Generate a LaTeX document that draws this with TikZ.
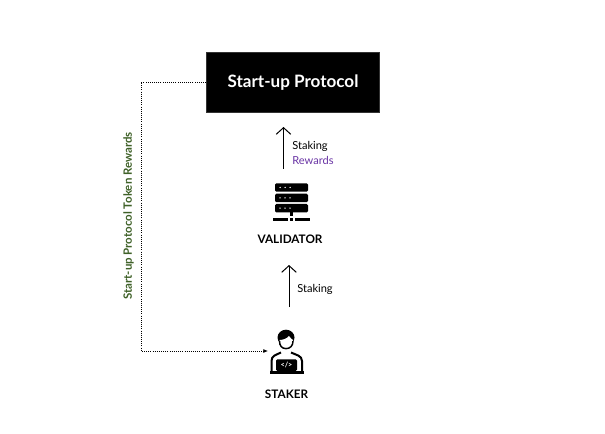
\documentclass[tikz,border=0pt]{standalone}
\usepackage{fontspec}
\setmainfont{Lato}
\usetikzlibrary{arrows.meta}
\definecolor{leaf}{HTML}{3F6128}
\definecolor{violet}{HTML}{6A35A5}
\tikzset{
  x=0.75pt,y=-0.75pt,
  protocolbox/.style={draw=black!80,fill=black,line width=0.6pt,minimum width=129.8pt,minimum height=45pt,inner sep=0pt,text=white,font=\fontsize{12.8}{14}\selectfont\bfseries},
  uplink/.style={line width=0.75pt,-{Straight Barb[length=5pt,width=11pt,line width=0.75pt]}},
  rewardlink/.style={densely dotted,line width=0.6pt,-{Latex[length=3.5pt,width=3pt]}},
  caption/.style={inner sep=0pt,font=\fontsize{8.3}{11.25}\selectfont,align=left},
  role/.style={inner sep=0pt,font=\fontsize{8.8}{10}\selectfont\bfseries},
}
\begin{document}
\begin{tikzpicture}
\useasboundingbox (0,0) rectangle (605,434);
\fill[white] (0,0) rectangle (605,434);
\node[protocolbox] (protocol) at (293,82.5) {Start-up Protocol};

% server icon
\foreach \t in {183.3,193.7,204}{
  \fill[black,rounded corners=1pt] (275,\t) rectangle (308,\t+8.4);
  \foreach \d in {280,285,290} \fill[white] (\d,\t+4.2) circle (0.75);
}
\fill (290,212) rectangle (292.7,216);
\fill (273,218.3) rectangle (288,221);
\fill (290,218.3) rectangle (292.7,221);
\fill (295.3,218.3) rectangle (310,221);
\coordinate (srvtop) at (283.5,127);
\coordinate (srvbot) at (283.5,169);
\node[role] (validator) at (290,239) {VALIDATOR};

\draw[uplink] (srvbot) -- (srvtop);
\node[caption,anchor=north west] (lab1) at (292,141) {Staking\\\textcolor{violet}{Rewards}};

\coordinate (stakbot) at (289,307);
\coordinate (staktop) at (289,265);
\draw[uplink] (stakbot) -- (staktop);
\node[caption,anchor=west] (lab2) at (297,289.5) {Staking};

% staker icon
\fill (286,337.5) ellipse (8.5 and 7.8);
\fill[white] (279.5,340) .. controls (283,340) and (287,338.5) .. (289,336) .. controls (290.5,338) and (292,339.5) .. (293,340) .. controls (293,346) and (290,348) .. (286,348) .. controls (282,348) and (279.5,346) .. (279.5,340) -- cycle;
\draw[line width=1.1pt] (279.5,341) .. controls (279.5,346) and (282,348.6) .. (286,348.6) .. controls (290,348.6) and (293,346) .. (293,341);
\draw[line width=1.5pt,line join=round] (271.5,371) -- (271.5,361) .. controls (271.5,355.5) and (276,355) .. (281,352.5) (291,352.5) .. controls (296,355) and (302,355.5) .. (302,361) -- (302,371);
\fill[rounded corners=1pt] (276,359.3) rectangle (297,371);
\fill (270,371) rectangle (303.5,373.5);
\node[text=white,inner sep=0pt,font=\fontsize{5.5}{6}\selectfont\bfseries] (code) at (286.5,365.3) {</>};
\node[role] (staker) at (286.5,394) {STAKER};

\coordinate (corner1) at (141,82);
\coordinate (corner2) at (141,351);
\coordinate (stakin) at (268,351);
\draw[rewardlink] (protocol.west |- corner1) -- (corner1) -- (corner2) -- (stakin);
\node[rotate=90,inner sep=0pt,text=leaf,font=\fontsize{8.6}{9}\selectfont\bfseries] (tok) at (128.5,216) {Start-up Protocol Token Rewards};
\end{tikzpicture}
\end{document}
